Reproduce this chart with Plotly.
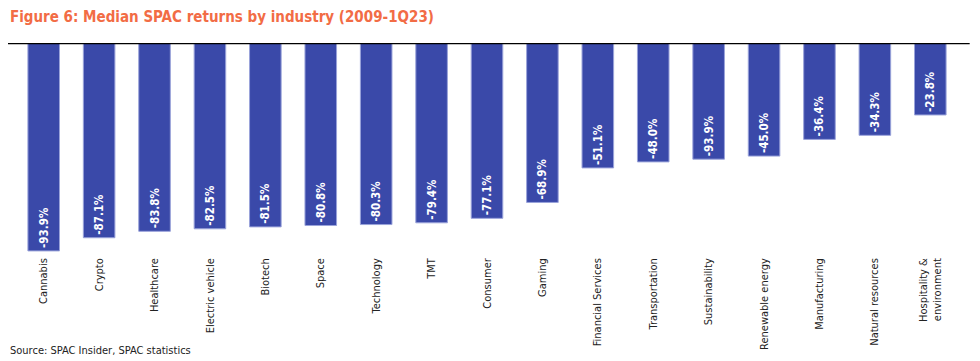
import plotly.graph_objects as go

categories = ["Cannabis", "Crypto", "Healthcare", "Electric vehicle", "Biotech", "Space",
              "Technology", "TMT", "Consumer", "Gaming", "Financial Services", "Transportation",
              "Sustainability", "Renewable energy", "Manufacturing", "Natural resources",
              "Hospitality &<br>environment"]
values = [-93.9, -87.1, -83.8, -82.5, -81.5, -80.8, -80.3, -79.4, -77.1, -68.9,
          -51.1, -48.0, -46.6, -45.0, -36.4, -34.3, -23.8]
labels = ["-93.9%", "-87.1%", "-83.8%", "-82.5%", "-81.5%", "-80.8%", "-80.3%", "-79.4%",
          "-77.1%", "-68.9%", "-51.1%", "-48.0%", "-93.9%", "-45.0%", "-36.4%", "-34.3%", "-23.8%"]

AXIS_CROSS = 13.3  # value where the category axis crosses (bars start here)

FONT = "DejaVu Sans Condensed, Liberation Sans Narrow, Roboto, sans-serif"

fig = go.Figure(go.Bar(
    x=categories,
    y=[v - AXIS_CROSS for v in values],
    base=AXIS_CROSS,
    width=0.57,
    marker=dict(color="#3a49a9", line=dict(color="#9aa3da", width=1)),
    text=labels,
    textposition="inside",
    insidetextanchor="end",
    textangle=-90,
    textfont=dict(family=FONT, size=11.5, color="white", weight="bold"),
    cliponaxis=False,
))

fig.update_layout(
    width=972, height=353,
    margin=dict(l=8, r=22, t=35, b=106, autoexpand=False),
    paper_bgcolor="white", plot_bgcolor="white",
    showlegend=False,
    bargap=0.43,
    uniformtext=dict(minsize=8, mode="show"),
    xaxis=dict(tickangle=-90, tickfont=dict(family=FONT, size=11, color="#222"),
               showline=False, ticks="", showgrid=False, automargin=False),
    yaxis=dict(range=[-96, AXIS_CROSS], visible=False, showgrid=False, zeroline=False,
               automargin=False),
    shapes=[dict(type="line", xref="paper", yref="y", x0=-0.0085, x1=1.0124,
                 y0=AXIS_CROSS, y1=AXIS_CROSS, line=dict(color="black", width=2.5))],
    annotations=[
        dict(text="<b>Figure 6: Median SPAC returns by industry (2009-1Q23)</b>",
             xref="paper", yref="paper", x=-0.0085, y=1.0, yshift=26,
             xanchor="left", yanchor="middle", showarrow=False,
             font=dict(family=FONT, size=15, color="#f26c45")),
        dict(text="Source: SPAC Insider, SPAC statistics",
             xref="paper", yref="paper", x=-0.0085, y=0, yshift=-95,
             xanchor="left", yanchor="middle", showarrow=False,
             font=dict(family=FONT, size=11, color="#222")),
    ],
)

fig.write_html("out.html")
